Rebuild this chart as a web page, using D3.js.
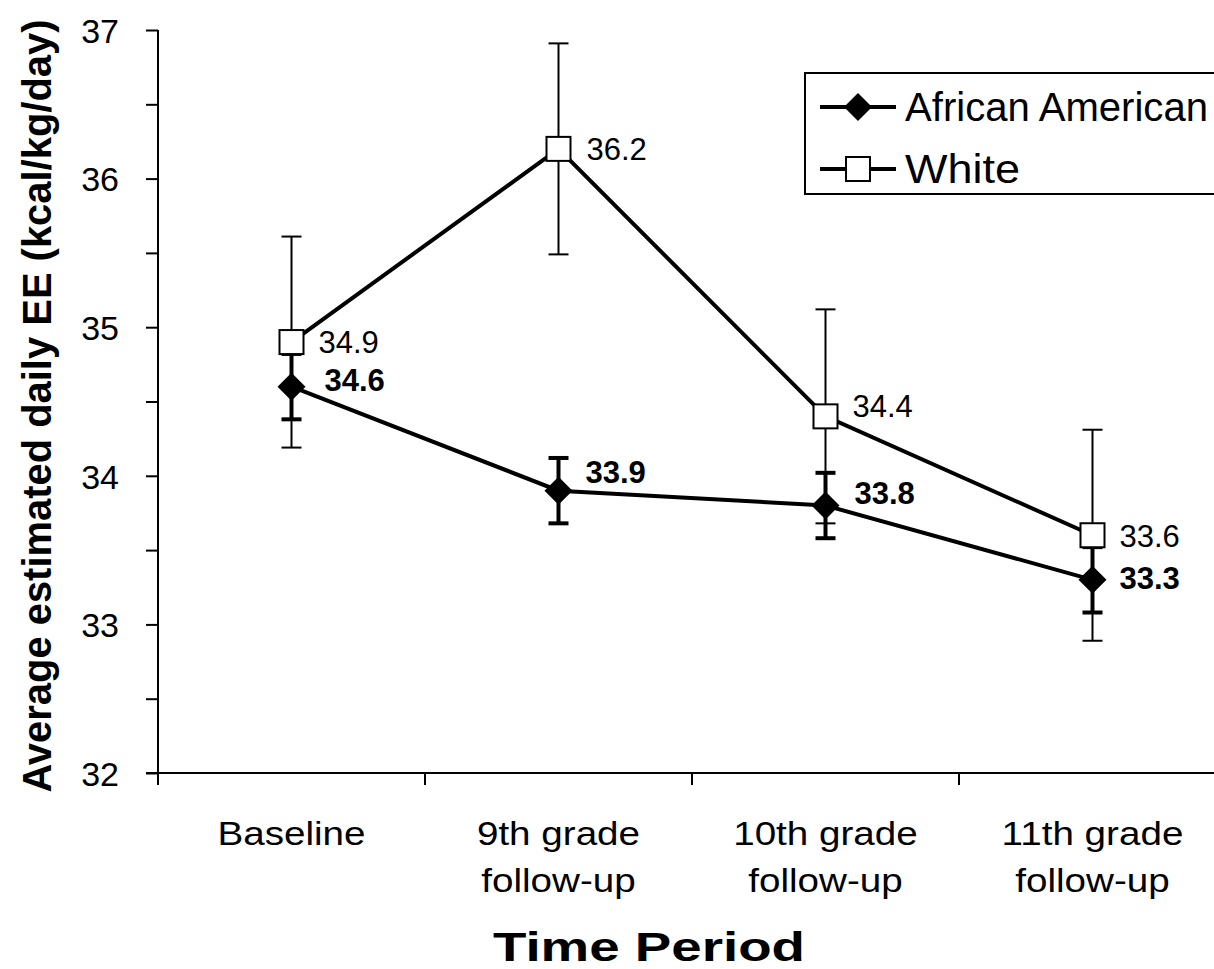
<!DOCTYPE html>
<html>
<head>
<meta charset="utf-8">
<script src="https://cdn.jsdelivr.net/npm/d3@7/dist/d3.min.js"></script>
<style>
    body { margin: 0; background: #fff; }
    svg { display: block; }
    text { font-family: Arial, "Liberation Sans", sans-serif; fill: #000; }
</style>
</head>
<body>
<svg id="chart" width="1214" height="969"></svg>
<script>
// data
var categories = ["Baseline", "9th grade follow-up", "10th grade follow-up", "11th grade follow-up"];
var categoryLines = [["Baseline"], ["9th grade", "follow-up"], ["10th grade", "follow-up"], ["11th grade", "follow-up"]];
var seriesNames = ["African American", "White"];
var aaMean = [34.6, 33.9, 33.8, 33.3];
var aaErr = [0.22, 0.22, 0.22, 0.22];
var whiteMean = [34.9, 36.2, 34.4, 33.6];
var whiteErr = [0.71, 0.71, 0.72, 0.71];
var yTicks = [32, 32.5, 33, 33.5, 34, 34.5, 35, 35.5, 36, 36.5, 37];

// label placement (pixels from the marker), not data
var aaNudge = [[33, 4], [27, -8], [29, -2], [27, 9]];
var whiteNudge = [[27, 11], [28, 11], [27, 1], [27, 12]];

(function () {
    var svg = d3.select("#chart");
    var plotLeft = 158, plotTop = 30, plotBottom = 773, plotRight = 1226;

    var x = d3.scaleBand().domain(categories).range([plotLeft, plotRight]).padding(0);
    var y = d3.scaleLinear().domain([32, 37]).range([plotBottom, plotTop]);

    function cx(d, i) {
        return x(categories[i]) + x.bandwidth() / 2;
    }

    // y axis
    var yAxis = d3.axisLeft(y)
        .tickValues(yTicks)
        .tickSize(12)
        .tickPadding(27)
        .tickFormat(function (d) {
            return d % 1 === 0 ? d : "";
        });
    var gy = svg.append("g").attr("transform", "translate(" + plotLeft + ",0)").call(yAxis);
    gy.select(".domain").attr("stroke", "#000").attr("stroke-width", 2)
        .attr("d", "M0," + plotTop + "V" + (plotBottom + 12));
    gy.selectAll(".tick line").attr("stroke", "#000").attr("stroke-width", 2);
    gy.selectAll(".tick text")
        .attr("fill", "#000")
        .style("font-family", "Arial, 'Liberation Sans', sans-serif")
        .style("font-size", "34px")
        .attr("dy", "0.36em");

    // x axis: line, ticks at band edges, labels at band centres
    svg.append("line")
        .attr("x1", plotLeft - 12).attr("x2", 1214)
        .attr("y1", plotBottom).attr("y2", plotBottom)
        .attr("stroke", "#000").attr("stroke-width", 2);

    svg.append("g").selectAll("line")
        .data(categories)
        .enter()
        .append("line")
        .attr("x1", function (d) { return x(d); })
        .attr("x2", function (d) { return x(d); })
        .attr("y1", plotBottom)
        .attr("y2", plotBottom + 12)
        .attr("stroke", "#000").attr("stroke-width", 2);

    var xLabels = svg.append("g").selectAll("text")
        .data(categoryLines)
        .enter()
        .append("text")
        .attr("text-anchor", "middle")
        .style("font-size", "33px");
    xLabels.each(function (lines, i) {
        var t = d3.select(this);
        lines.forEach(function (line, j) {
            var span = t.append("tspan")
                .attr("x", x(categories[i]) + x.bandwidth() / 2)
                .attr("y", 845 + j * 47)
                .text(line);
            // the original text is drawn a little wider than Arial
            var w = span.node().getComputedTextLength();
            span.attr("textLength", w * 1.17).attr("lengthAdjust", "spacingAndGlyphs");
        });
    });

    // axis titles
    svg.append("text")
        .attr("x", 649).attr("y", 961)
        .attr("text-anchor", "middle")
        .attr("textLength", 312)
        .attr("lengthAdjust", "spacingAndGlyphs")
        .style("font-size", "40px").style("font-weight", "bold")
        .text("Time Period");

    svg.append("text")
        .attr("transform", "translate(51,406) rotate(-90)")
        .attr("text-anchor", "middle")
        .attr("textLength", 773)
        .attr("lengthAdjust", "spacingAndGlyphs")
        .style("font-size", "41px").style("font-weight", "bold")
        .text("Average estimated daily EE (kcal/kg/day)");

    // error bars
    function errorBars(mean, err, width) {
        var g = svg.append("g");
        g.selectAll("line.v")
            .data(mean)
            .enter()
            .append("line")
            .attr("class", "v")
            .attr("x1", cx).attr("x2", cx)
            .attr("y1", function (d, i) { return y(d + err[i]); })
            .attr("y2", function (d, i) { return y(d - err[i]); })
            .attr("stroke", "#000").attr("stroke-width", width);
        [1, -1].forEach(function (s) {
            g.selectAll("line.c" + (s > 0 ? "up" : "down"))
                .data(mean)
                .enter()
                .append("line")
                .attr("class", "c" + (s > 0 ? "up" : "down"))
                .attr("x1", function (d, i) { return cx(d, i) - 10; })
                .attr("x2", function (d, i) { return cx(d, i) + 10; })
                .attr("y1", function (d, i) { return y(d + s * err[i]); })
                .attr("y2", function (d, i) { return y(d + s * err[i]); })
                .attr("stroke", "#000").attr("stroke-width", width);
        });
    }
    errorBars(whiteMean, whiteErr, 2);
    errorBars(aaMean, aaErr, 4);

    // lines
    var line = d3.line()
        .x(function (d, i) { return cx(d, i); })
        .y(function (d) { return y(d); });

    svg.append("path").datum(whiteMean).attr("d", line)
        .attr("fill", "none").attr("stroke", "#000").attr("stroke-width", 4);
    svg.append("path").datum(aaMean).attr("d", line)
        .attr("fill", "none").attr("stroke", "#000").attr("stroke-width", 4);

    // markers
    var diamond = "M0,-14L14,0L0,14L-14,0Z";
    svg.append("g").selectAll("path")
        .data(aaMean)
        .enter()
        .append("path")
        .attr("d", diamond)
        .attr("transform", function (d, i) { return "translate(" + cx(d, i) + "," + y(d) + ")"; })
        .attr("fill", "#000");

    svg.append("g").selectAll("rect")
        .data(whiteMean)
        .enter()
        .append("rect")
        .attr("x", function (d, i) { return cx(d, i) - 12; })
        .attr("y", function (d) { return y(d) - 12; })
        .attr("width", 24).attr("height", 24)
        .attr("fill", "#fff").attr("stroke", "#000").attr("stroke-width", 2);

    // value labels
    svg.append("g").selectAll("text")
        .data(whiteMean)
        .enter()
        .append("text")
        .attr("x", function (d, i) { return cx(d, i) + whiteNudge[i][0]; })
        .attr("y", function (d, i) { return y(d) + whiteNudge[i][1]; })
        .style("font-size", "31px")
        .text(function (d) { return d.toFixed(1); });

    svg.append("g").selectAll("text")
        .data(aaMean)
        .enter()
        .append("text")
        .attr("x", function (d, i) { return cx(d, i) + aaNudge[i][0]; })
        .attr("y", function (d, i) { return y(d) + aaNudge[i][1]; })
        .style("font-size", "31px").style("font-weight", "bold")
        .text(function (d) { return d.toFixed(1); });

    // legend
    var legend = svg.append("g");
    legend.append("rect")
        .attr("x", 805).attr("y", 73)
        .attr("width", 430).attr("height", 121)
        .attr("fill", "#fff").attr("stroke", "#000").attr("stroke-width", 2);

    var legendRows = legend.selectAll("g.row")
        .data(seriesNames)
        .enter()
        .append("g")
        .attr("class", "row")
        .attr("transform", function (d, i) { return "translate(0," + (107 + i * 62) + ")"; });

    legendRows.append("line")
        .attr("x1", 820).attr("x2", 896)
        .attr("stroke", "#000").attr("stroke-width", 4);
    legendRows.filter(function (d, i) { return i === 0; })
        .append("path")
        .attr("d", diamond)
        .attr("transform", "translate(858,0)")
        .attr("fill", "#000");
    legendRows.filter(function (d, i) { return i === 1; })
        .append("rect")
        .attr("x", 846).attr("y", -12)
        .attr("width", 24).attr("height", 24)
        .attr("fill", "#fff").attr("stroke", "#000").attr("stroke-width", 2);
    legendRows.append("text")
        .attr("x", 905).attr("y", 14)
        .attr("textLength", function (d, i) { return i === 0 ? 303 : 115; })
        .attr("lengthAdjust", "spacingAndGlyphs")
        .style("font-size", "40px")
        .text(function (d) { return d; });
})();
</script>
</body>
</html>
